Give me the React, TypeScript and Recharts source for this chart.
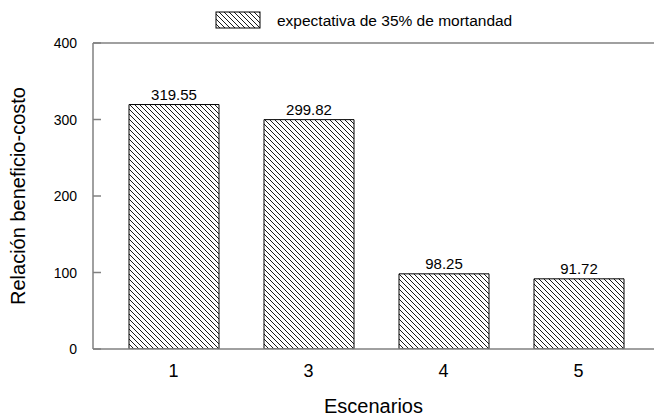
import React from 'react'
import { BarChart, Bar, XAxis, YAxis, ReferenceLine, Legend, LabelList, Label } from 'recharts'

const escenarios = ['1', '3', '4', '5']
const relacion = [319.55, 299.82, 98.25, 91.72]
const yTicks = [0, 100, 200, 300, 400]
const serieNombre = 'expectativa de 35% de mortandad'

const data = escenarios.map((e, i) => ({ escenario: e, valor: relacion[i] }))

const FONT = '"Liberation Sans", Arial, sans-serif'
const GRIS = '#808080'

function YTick(props: any) {
  const { x, y, payload } = props
  // tick marks point inward, into the plot
  return (
    <g>
      <line x1={x + 16} x2={x + 24} y1={y} y2={y} stroke={GRIS} strokeWidth={1.5} />
      <text x={x} y={y} dy="0.36em" textAnchor="end" fontSize={14} fill="#000" fontFamily={FONT}>
        {payload.value}
      </text>
    </g>
  )
}

function Leyenda(props: any) {
  const nombre = props.payload?.[0]?.value ?? serieNombre
  return (
    <svg width={654} height={30} style={{ display: 'block' }}>
      <defs>
        <pattern id="rayado-leyenda" patternUnits="userSpaceOnUse" width={5} height={5}>
          <path d="M-1,-1 L6,6 M-1,4 L1,6 M4,-1 L6,1" stroke="#000" strokeWidth={0.9} />
        </pattern>
      </defs>
      <rect x={216} y={4} width={44} height={16} fill="url(#rayado-leyenda)" stroke="#000" strokeWidth={1} />
      <text x={277} y={12} dy="0.36em" fontSize={15.5} fill="#000" fontFamily={FONT}>
        {nombre}
      </text>
    </svg>
  )
}

export default function App() {
  return (
    <div style={{ position: 'absolute', left: 0, top: 0, background: '#fff', fontFamily: FONT }}>
      <BarChart width={654} height={418} data={data} margin={{ top: 43, right: 0, bottom: 0, left: 0 }}>
        <defs>
          <pattern id="rayado" patternUnits="userSpaceOnUse" width={5} height={5}>
            <path d="M-1,-1 L6,6 M-1,4 L1,6 M4,-1 L6,1" stroke="#000" strokeWidth={0.9} />
          </pattern>
        </defs>
        <XAxis
          dataKey="escenario"
          height={69}
          padding={{ left: 13, right: 8 }}
          axisLine={{ stroke: GRIS, strokeWidth: 1.5 }}
          tickLine={false}
          tickSize={8}
          tickMargin={7}
          tick={{ fontSize: 18, fill: '#000', fontFamily: FONT }}
        >
          <Label value="Escenarios" position="insideBottom" offset={5} fontSize={20} fill="#000" fontFamily={FONT} />
        </XAxis>
        <YAxis
          width={93}
          domain={[0, 400]}
          ticks={yTicks}
          allowDataOverflow
          axisLine={{ stroke: GRIS, strokeWidth: 1.5 }}
          tickLine={false}
          tickSize={8}
          tickMargin={8}
          tick={<YTick />}
        >
          <Label
            value="Relación beneficio-costo"
            angle={-90}
            position="insideLeft"
            offset={18}
            fontSize={20}
            fill="#000"
            fontFamily={FONT}
            style={{ textAnchor: 'middle' }}
          />
        </YAxis>
        <ReferenceLine y={400} stroke={GRIS} strokeWidth={1.5} ifOverflow="visible" />
        <Legend
          layout="horizontal"
          verticalAlign="middle"
          align="center"
          wrapperStyle={{ top: 8, left: 0, width: 654 }}
          content={<Leyenda />}
        />
        <Bar
          dataKey="valor"
          name={serieNombre}
          barSize={90}
          fill="url(#rayado)"
          stroke="#000"
          strokeWidth={1}
          isAnimationActive={false}
        >
          <LabelList dataKey="valor" position="top" offset={5} fontSize={15} fill="#000" fontFamily={FONT} />
        </Bar>
      </BarChart>
    </div>
  )
}
